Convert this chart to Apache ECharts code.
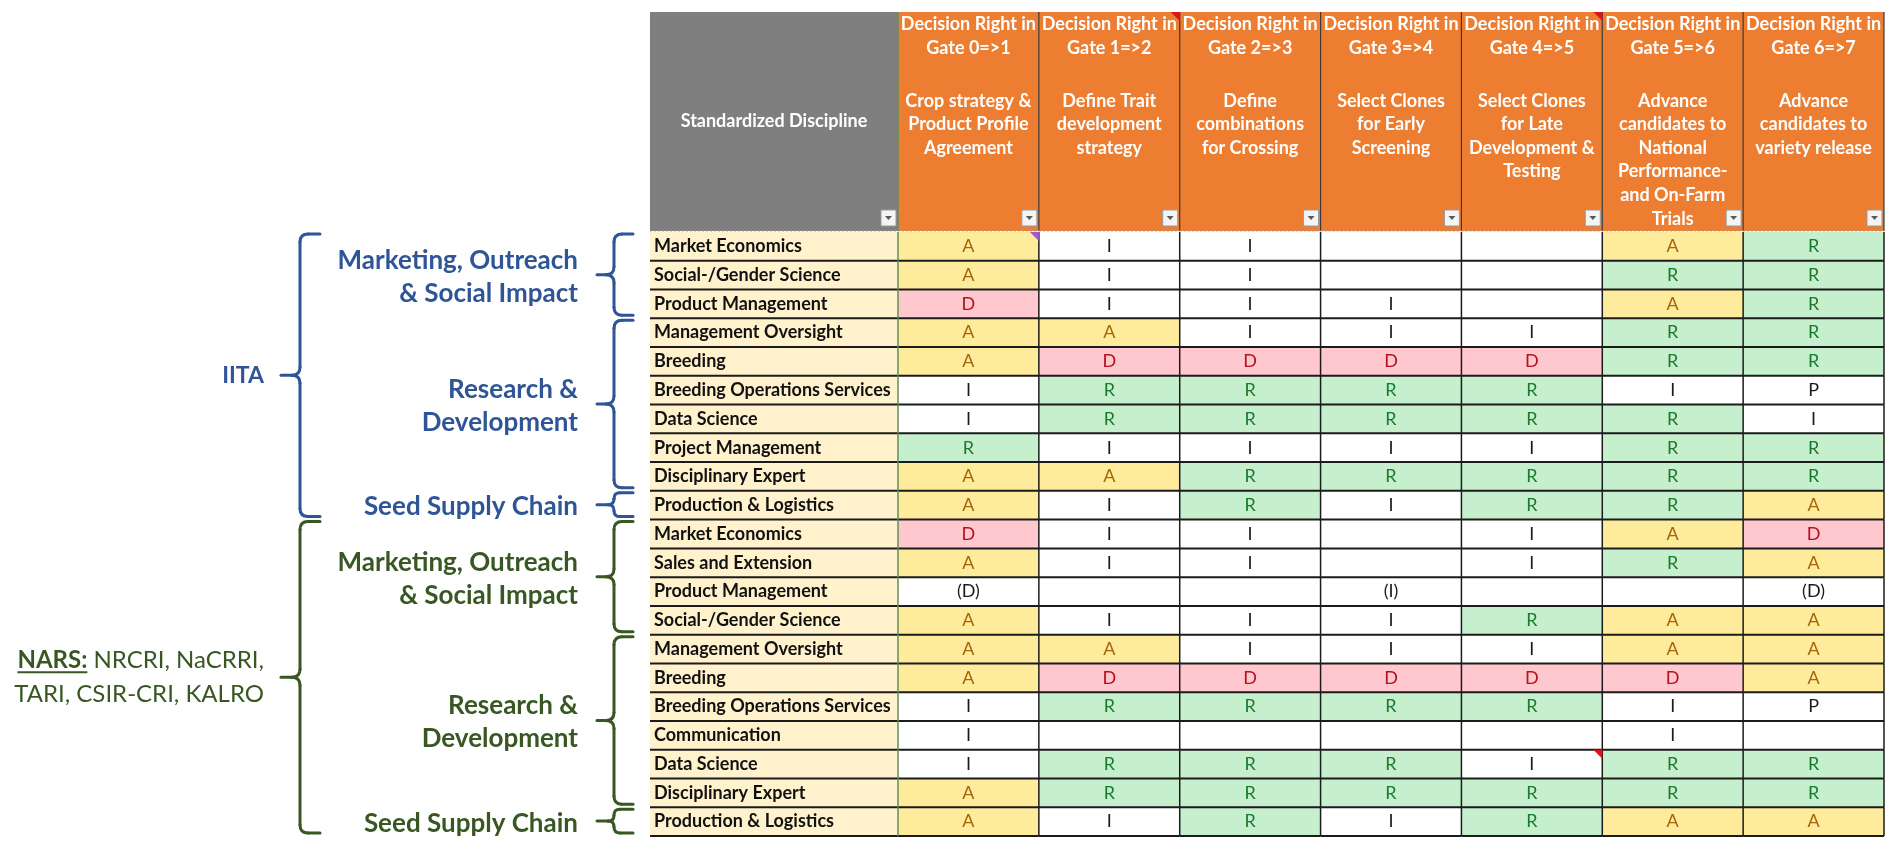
<!DOCTYPE html>
<html>
<head>
<meta charset="utf-8">
<title>Decision rights per discipline and gate</title>
<script src="https://cdn.jsdelivr.net/npm/echarts@6/dist/echarts.min.js"></script>
<style>
  html, body { margin: 0; padding: 0; background: #fff; }
  #chart { width: 1902px; height: 850px; }
</style>
</head>
<body>
<div id="chart"></div>
<script>
// columns of the sheet
const gates = ['Gate 0=>1', 'Gate 1=>2', 'Gate 2=>3', 'Gate 3=>4', 'Gate 4=>5', 'Gate 5=>6', 'Gate 6=>7'];
const gateTasks = [
  'Crop strategy &\nProduct Profile\nAgreement',
  'Define Trait\ndevelopment\nstrategy',
  'Define\ncombinations\nfor Crossing',
  'Select Clones\nfor Early\nScreening',
  'Select Clones\nfor Late\nDevelopment &\nTesting',
  'Advance\ncandidates to\nNational\nPerformance-\nand On-Farm\nTrials',
  'Advance\ncandidates to\nvariety release'
];

// rows, top to bottom
const disciplines = [
  'Market Economics', 'Social-/Gender Science', 'Product Management', 'Management Oversight', 'Breeding',
  'Breeding Operations Services', 'Data Science', 'Project Management', 'Disciplinary Expert', 'Production & Logistics',
  'Market Economics', 'Sales and Extension', 'Product Management', 'Social-/Gender Science', 'Management Oversight',
  'Breeding', 'Breeding Operations Services', 'Communication', 'Data Science', 'Disciplinary Expert', 'Production & Logistics'
];

// decision right per row, one array per gate
const gate0 = ['A', 'A', 'D', 'A', 'A', 'I', 'I', 'R', 'A', 'A', 'D', 'A', '(D)', 'A', 'A', 'A', 'I', 'I', 'I', 'A', 'A'];
const gate1 = ['I', 'I', 'I', 'A', 'D', 'R', 'R', 'I', 'A', 'I', 'I', 'I', '', 'I', 'A', 'D', 'R', '', 'R', 'R', 'I'];
const gate2 = ['I', 'I', 'I', 'I', 'D', 'R', 'R', 'I', 'R', 'R', 'I', 'I', '', 'I', 'I', 'D', 'R', '', 'R', 'R', 'R'];
const gate3 = ['', '', 'I', 'I', 'D', 'R', 'R', 'I', 'R', 'I', '', '', '(I)', 'I', 'I', 'D', 'R', '', 'R', 'R', 'I'];
const gate4 = ['', '', '', 'I', 'D', 'R', 'R', 'I', 'R', 'R', 'I', 'I', '', 'R', 'I', 'D', 'R', '', 'I', 'R', 'R'];
const gate5 = ['A', 'R', 'A', 'R', 'R', 'I', 'R', 'R', 'R', 'R', 'A', 'R', '', 'A', 'A', 'D', 'I', 'I', 'R', 'R', 'A'];
const gate6 = ['R', 'R', 'R', 'R', 'R', 'P', 'I', 'R', 'R', 'A', 'D', 'A', '(D)', 'A', 'A', 'A', 'P', '', 'R', 'R', 'A'];
const rights = [gate0, gate1, gate2, gate3, gate4, gate5, gate6];

// grouping on the left
const orgs = ['IITA', 'NARS'];
const orgMembers = ['', 'NRCRI, NaCRRI,\nTARI, CSIR-CRI, KALRO'];
const orgRows = [[0, 9], [10, 20]];
const units = [
  'Marketing, Outreach\n& Social Impact', 'Research &\nDevelopment', 'Seed Supply Chain',
  'Marketing, Outreach\n& Social Impact', 'Research &\nDevelopment', 'Seed Supply Chain'
];
const unitRows = [[0, 2], [3, 8], [9, 9], [10, 13], [14, 19], [20, 20]];
const unitOrg = [0, 0, 0, 1, 1, 1];

// little comment markers of the sheet
const headerNotes = [1, 4];
const cellNotes = [[0, 0, '#A05CC8'], [4, 18, '#E0151B']];

const FONT = 'Lato, "Open Sans", sans-serif';
const orgColor = ['#2F5597', '#385723'];
const codeStyle = {
  A: { fill: '#FFEB9C', text: '#A5650A' },
  D: { fill: '#FFC7CE', text: '#B3121E' },
  R: { fill: '#C6EFCE', text: '#1A7A2E' }
};
const plainStyle = { fill: '#FFFFFF', text: '#1A1A1A' };

let measure = document.createElement('canvas').getContext('2d');

function cellBox(api, col, row) {
  let c = api.coord([col, row]);
  let s = api.size([1, 1]);
  return { x: c[0] - s[0] / 2, y: c[1] - s[1] / 2, w: s[0], h: s[1], cx: c[0], cy: c[1] };
}

function dropDown(b) {
  let bx = b.x + b.w - 17, by = b.y + b.h - 21;
  return [
    { type: 'rect', shape: { x: bx, y: by, width: 15, height: 16 }, style: { fill: '#F4F4F4', stroke: '#9A9A9A', lineWidth: 1 }, z2: 6 },
    { type: 'polygon', shape: { points: [[bx + 4, by + 6], [bx + 11, by + 6], [bx + 7.5, by + 10]] }, style: { fill: '#5A5A5A' }, z2: 7 }
  ];
}

function note(b, color) {
  return { type: 'polygon', shape: { points: [[b.x + b.w - 9, b.y], [b.x + b.w, b.y], [b.x + b.w, b.y + 9]] }, style: { fill: color }, z2: 8 };
}

function renderLabelHead(params, api) {
  let b = cellBox(api, 0, 0);
  return {
    type: 'group',
    children: [
      { type: 'rect', shape: { x: b.x, y: b.y, width: b.w, height: b.h }, style: { fill: '#7F7F7F' } },
      { type: 'text', style: { x: b.cx, y: b.cy, text: 'Standardized Discipline', align: 'center', verticalAlign: 'middle', fill: '#fff', font: 'bold 18px ' + FONT } },
      { type: 'line', shape: { x1: b.x, y1: b.y + b.h, x2: b.x + b.w, y2: b.y + b.h }, style: { stroke: '#A6A6A6', lineWidth: 1, lineDash: [2, 2] } }
    ].concat(dropDown(b))
  };
}

function renderGateHead(params, api) {
  let col = api.value(0);
  let b = cellBox(api, col, 0);
  let children = [
    { type: 'rect', shape: { x: b.x, y: b.y, width: b.w, height: b.h }, style: { fill: '#ED7D31' } },
    { type: 'line', shape: { x1: b.x + b.w, y1: b.y, x2: b.x + b.w, y2: b.y + b.h }, style: { stroke: '#3A3A3A', lineWidth: 1.2 }, z2: 3 },
    { type: 'line', shape: { x1: b.x, y1: b.y + b.h, x2: b.x + b.w, y2: b.y + b.h }, style: { stroke: '#A6A6A6', lineWidth: 1, lineDash: [2, 2] }, z2: 3 },
    {
      type: 'text', z2: 5,
      style: {
        x: b.cx, y: b.y, text: 'Decision Right in\n' + gates[col],
        align: 'center', verticalAlign: 'top', lineHeight: 24, fill: '#fff', font: 'bold 18px ' + FONT
      }
    },
    {
      type: 'text', z2: 5,
      style: {
        x: b.cx, y: b.y + 77, text: gateTasks[col],
        align: 'center', verticalAlign: 'top', lineHeight: 23.6, fill: '#fff', font: 'bold 18px ' + FONT
      }
    }
  ].concat(dropDown(b));
  if (col === 0) {
    children.push({ type: 'line', shape: { x1: b.x, y1: b.y, x2: b.x, y2: b.y + b.h }, style: { stroke: '#5E8F5E', lineWidth: 1.5 }, z2: 3 });
  }
  if (headerNotes.indexOf(col) >= 0) children.push(note(b, '#E0151B'));
  return { type: 'group', children: children };
}

function renderLabel(params, api) {
  let row = api.value(1);
  let b = cellBox(api, 0, row);
  return {
    type: 'group',
    children: [
      { type: 'rect', shape: { x: b.x, y: b.y, width: b.w, height: b.h }, style: { fill: '#FFF2CC' } },
      { type: 'line', shape: { x1: b.x, y1: b.y + b.h, x2: b.x + b.w, y2: b.y + b.h }, style: { stroke: '#1B1B1B', lineWidth: 2 }, z2: 5 },
      { type: 'text', style: { x: b.x + 4, y: b.cy, text: disciplines[row], align: 'left', verticalAlign: 'middle', fill: '#111', font: 'bold 18px ' + FONT }, z2: 10 }
    ]
  };
}

function renderCell(params, api) {
  let col = api.value(0), row = api.value(1);
  let code = rights[col][row];
  let st = codeStyle[code] || plainStyle;
  let b = cellBox(api, col, row);
  let children = [
    { type: 'rect', shape: { x: b.x, y: b.y, width: b.w, height: b.h }, style: { fill: st.fill }, z2: 0 },
    { type: 'line', shape: { x1: b.x, y1: b.y + b.h, x2: b.x + b.w, y2: b.y + b.h }, style: { stroke: '#1B1B1B', lineWidth: 2 }, z2: 5 },
    { type: 'line', shape: { x1: b.x + b.w, y1: b.y, x2: b.x + b.w, y2: b.y + b.h }, style: { stroke: '#1B1B1B', lineWidth: 1.5 }, z2: 5 },
    { type: 'text', style: { x: b.cx, y: b.cy, text: code, align: 'center', verticalAlign: 'middle', fill: st.text, font: '18px ' + FONT }, z2: 10 }
  ];
  if (col === 0) {
    children.push({ type: 'line', shape: { x1: b.x, y1: b.y, x2: b.x, y2: b.y + b.h }, style: { stroke: '#5E8F5E', lineWidth: 1.5 }, z2: 6 });
  }
  cellNotes.forEach(function (n) {
    if (n[0] === col && n[1] === row) children.push(note(b, n[2]));
  });
  return { type: 'group', children: children };
}

// curly brace opening to the right, with its point to the left
function brace(api, r0, r1, xp, xv, xt, color) {
  let rowH = api.size([0, 1])[1];
  let top = api.coord([0, r0])[1] - rowH / 2 + 2;
  let bot = api.coord([0, r1])[1] + rowH / 2 - 3;
  let mid = (top + bot) / 2;
  let px = api.coord([xp, 0])[0], vx = api.coord([xv, 0])[0], tx = api.coord([xt, 0])[0];
  let r = Math.min(8, (bot - top) / 4);
  let st = { stroke: color, lineWidth: 3, fill: null, lineCap: 'round' };
  return [
    { type: 'line', shape: { x1: tx, y1: top, x2: vx + r, y2: top }, style: st },
    { type: 'bezierCurve', shape: { x1: vx + r, y1: top, cpx1: vx, cpy1: top, x2: vx, y2: top + r }, style: st },
    { type: 'line', shape: { x1: vx, y1: top + r, x2: vx, y2: mid - r }, style: st },
    { type: 'bezierCurve', shape: { x1: vx, y1: mid - r, cpx1: vx, cpy1: mid, x2: vx - r, y2: mid }, style: st },
    { type: 'line', shape: { x1: vx - r, y1: mid, x2: px, y2: mid }, style: st },
    { type: 'bezierCurve', shape: { x1: vx - r, y1: mid, cpx1: vx, cpy1: mid, x2: vx, y2: mid + r }, style: st },
    { type: 'line', shape: { x1: vx, y1: mid + r, x2: vx, y2: bot - r }, style: st },
    { type: 'bezierCurve', shape: { x1: vx, y1: bot - r, cpx1: vx, cpy1: bot, x2: vx + r, y2: bot }, style: st },
    { type: 'line', shape: { x1: vx + r, y1: bot, x2: tx, y2: bot }, style: st }
  ].concat([{ mid: mid }]);
}

function renderUnit(params, api) {
  let i = params.dataIndex;
  let color = orgColor[unitOrg[i]];
  let parts = brace(api, api.value(0), api.value(1), 597, 614, 633, color);
  let mid = parts.pop().mid;
  parts.push({
    type: 'text',
    style: { x: api.coord([578, 0])[0], y: mid + 2, text: units[i], align: 'right', verticalAlign: 'middle', lineHeight: 33, fill: color, font: 'bold 26px ' + FONT }
  });
  return { type: 'group', children: parts };
}

function renderOrg(params, api) {
  let i = params.dataIndex;
  let color = orgColor[i];
  let parts = brace(api, api.value(0), api.value(1), 281, 300, 320, color);
  let mid = parts.pop().mid;
  let tx = api.coord([264, 0])[0];
  if (!orgMembers[i]) {
    parts.push({ type: 'text', style: { x: tx, y: mid, text: orgs[i], align: 'right', verticalAlign: 'middle', fill: color, font: 'bold 23px ' + FONT } });
  } else {
    let lh = 34;
    let first = orgMembers[i].split('\n')[0];
    parts.push({
      type: 'text',
      style: {
        x: tx, y: mid, text: '{b|' + orgs[i] + ':} ' + orgMembers[i], align: 'right', verticalAlign: 'middle',
        lineHeight: lh, fill: color, font: '24px ' + FONT,
        rich: { b: { fontWeight: 'bold', fontSize: 24, fontFamily: FONT, fill: color, lineHeight: lh } }
      }
    });
    // underline under the bold name
    measure.font = 'bold 24px ' + FONT;
    let wName = measure.measureText(orgs[i] + ':').width;
    measure.font = '24px ' + FONT;
    let wRest = measure.measureText(' ' + first).width;
    let ux = tx - wName - wRest;
    let uy = mid - lh / 2 + 12;
    parts.push({ type: 'line', shape: { x1: ux, y1: uy, x2: ux + wName, y2: uy }, style: { stroke: color, lineWidth: 2 } });
  }
  return { type: 'group', children: parts };
}

let chart = echarts.init(document.getElementById('chart'), null, { renderer: 'canvas' });

let cellData = [];
rights.forEach(function (col, c) {
  col.forEach(function (v, r) { cellData.push([c, r]); });
});

let option = {
  backgroundColor: '#fff',
  animation: false,
  grid: [
    { left: 650, top: 12, width: 248, height: 219 },
    { left: 898, top: 12, width: 986, height: 219 },
    { left: 650, top: 232, width: 248, height: 604 },
    { left: 898, top: 232, width: 986, height: 604 },
    { left: 0, top: 232, width: 650, height: 604 }
  ],
  xAxis: [
    { gridIndex: 0, type: 'category', data: ['Standardized Discipline'], show: false },
    { gridIndex: 1, type: 'category', data: gates, show: false },
    { gridIndex: 2, type: 'category', data: ['Standardized Discipline'], show: false },
    { gridIndex: 3, type: 'category', data: gates, show: false },
    { gridIndex: 4, type: 'value', min: 0, max: 650, show: false }
  ],
  yAxis: [
    { gridIndex: 0, type: 'category', data: ['head'], show: false },
    { gridIndex: 1, type: 'category', data: ['head'], show: false },
    { gridIndex: 2, type: 'category', data: disciplines, inverse: true, show: false },
    { gridIndex: 3, type: 'category', data: disciplines, inverse: true, show: false },
    { gridIndex: 4, type: 'category', data: disciplines, inverse: true, show: false }
  ],
  series: [
    { type: 'custom', xAxisIndex: 0, yAxisIndex: 0, data: [[0, 0]], renderItem: renderLabelHead, silent: true },
    { type: 'custom', xAxisIndex: 1, yAxisIndex: 1, data: gates.map(function (g, i) { return [i, 0]; }), renderItem: renderGateHead, silent: true },
    { type: 'custom', xAxisIndex: 2, yAxisIndex: 2, data: disciplines.map(function (d, i) { return [0, i]; }), renderItem: renderLabel, silent: true },
    { type: 'custom', xAxisIndex: 3, yAxisIndex: 3, data: cellData, renderItem: renderCell, silent: true },
    { type: 'custom', xAxisIndex: 4, yAxisIndex: 4, data: unitRows, renderItem: renderUnit, encode: { x: -1, y: [0, 1] }, silent: true },
    { type: 'custom', xAxisIndex: 4, yAxisIndex: 4, data: orgRows, renderItem: renderOrg, encode: { x: -1, y: [0, 1] }, silent: true }
  ]
};
chart.setOption(option);
</script>
</body>
</html>
